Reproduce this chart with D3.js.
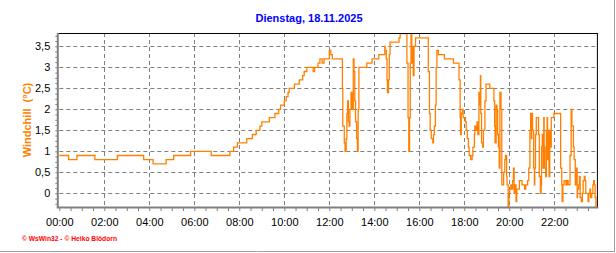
<!DOCTYPE html>
<html><head><meta charset="utf-8">
<script src="https://cdn.jsdelivr.net/npm/d3@7"></script>
<style>
html,body{margin:0;padding:0;background:#fff;}
svg{display:block;font-family:"Liberation Sans",Arial,sans-serif;}
</style></head>
<body>
<svg id="c" width="616" height="253"></svg>
<script>
const title = "Dienstag, 18.11.2025";
const yLabel = "Windchill  (°C)";
const credits = "© WsWin32 - © Heiko Blödorn";
const xTickLabels = ["00:00","02:00","04:00","06:00","08:00","10:00","12:00","14:00","16:00","18:00","20:00","22:00"];
const yTickValues = [0,0.5,1,1.5,2,2.5,3,3.5];
const times = ["00:00","00:25","00:47","01:35","02:35","03:45","04:10","04:45","05:05","05:50","06:45","07:35","07:45","07:55","08:20","08:35","08:45","08:55","09:00","09:20","09:35","09:45","09:50","10:00","10:05","10:10","10:13","10:27","10:40","10:49","10:53","11:00","11:17","11:21","11:30","11:35","11:41","11:46","12:00","12:04","12:08","12:35","12:36","12:40","12:42","12:45","12:47","12:49","12:51","12:53","12:55","12:58","13:01","13:04","13:06","13:08","13:10","13:13","13:15","13:17","13:19","13:40","13:54","14:12","14:28","14:29","14:32","14:34","14:35","14:38","14:40","14:42","15:06","15:09","15:27","15:30","15:32","15:34","15:36","15:38","15:40","15:42","15:44","15:46","15:50","16:24","16:27","16:29","16:32","16:36","16:38","16:40","16:43","16:45","16:47","16:51","17:07","17:31","17:46","17:49","17:50","17:52","17:55","17:57","18:03","18:05","18:08","18:11","18:13","18:17","18:21","18:23","18:27","18:28","18:31","18:34","18:36","18:39","18:41","18:43","18:44","18:46","18:49","18:51","18:55","18:58","19:08","19:19","19:21","19:22","19:25","19:27","19:29","19:31","19:33","19:35","19:38","19:40","19:45","19:48","19:50","19:53","19:54","19:57","19:59","20:01","20:04","20:06","20:09","20:11","20:13","20:16","20:18","20:20","20:27","20:34","20:41","20:44","20:49","20:52","20:55","20:57","20:59","21:00","21:02","21:05","21:07","21:08","21:10","21:12","21:18","21:20","21:23","21:25","21:26","21:28","21:30","21:32","21:33","21:35","21:37","21:39","21:41","21:42","21:44","21:46","21:48","21:50","21:52","21:59","22:17","22:20","22:21","22:23","22:26","22:31","22:34","22:37","22:42","22:45","22:47","22:51","22:53","22:56","22:58","23:01","23:02","23:05","23:07","23:09","23:12","23:15","23:17","23:20","23:22","23:24","23:30","23:32","23:35","23:37","23:40","23:43","23:45","23:47","23:49","23:51","23:55"];
const windchill = [0.9,0.8,0.9,0.8,0.9,0.8,0.7,0.8,0.9,1.0,0.9,1.0,1.1,1.2,1.3,1.4,1.5,1.6,1.7,1.8,1.9,2.0,2.1,2.2,2.3,2.4,2.5,2.6,2.7,2.8,2.9,3.0,2.9,3.0,3.1,3.2,3.1,3.2,3.4,3.3,3.2,2.5,1.6,1.2,1.0,1.3,1.9,2.2,1.7,1.6,2.0,2.4,2.0,3.2,2.9,2.2,1.7,1.3,1.0,2.0,3.0,3.1,3.2,3.3,3.5,3.4,3.2,2.7,2.4,2.7,3.3,3.6,3.7,3.8,3.1,1.8,1.0,1.8,3.1,3.8,3.1,3.5,2.8,3.5,3.7,2.9,1.9,1.5,1.3,1.2,1.4,1.6,2.1,3.0,3.4,3.3,3.2,3.1,2.7,1.8,1.4,1.9,2.0,1.8,1.7,1.5,1.3,1.1,0.9,0.8,0.9,1.1,1.4,1.6,1.5,1.7,1.4,2.4,2.1,2.8,1.9,1.2,1.1,1.5,2.2,2.6,2.5,2.2,1.6,1.2,2.1,2.0,1.4,1.1,0.6,2.4,2.0,0.2,0.5,0.8,0.9,0.4,0.2,-0.33,0.0,0.1,0.2,0.1,0.3,0.6,0.0,0.2,-0.2,0.1,0.3,0.2,0.1,0.2,0.3,0.6,1.5,1.9,1.3,1.9,1.5,0.6,0.2,0.6,1.4,1.8,1.4,0.4,0.0,0.2,1.1,1.4,0.6,1.8,1.1,0.6,0.4,1.5,1.8,0.8,1.5,0.4,1.5,1.1,1.8,1.9,0.6,0.2,-0.2,0.2,0.3,0.2,0.3,0.2,0.9,2.0,1.6,1.1,0.8,0.2,0.6,-0.1,0.1,0.2,0.4,-0.1,-0.2,0.0,0.3,0.4,0.3,0.0,-0.2,0.0,0.1,-0.1,0.0,0.2,0.3,0.2,-0.1,-0.33,-0.33];

const toMin = s => { const [h,m] = s.split(":").map(Number); return h*60+m; };
const data = times.map((t,i)=>({t:toMin(t), v:windchill[i]}));

const svg = d3.select("#c");
const L=59.3, R=597.4, T=33, B=207;
const x = d3.scaleLinear().domain([0,1435]).range([L,R]);
const y = d3.scaleLinear().domain([-0.326,3.817]).range([B,T]);
const grey="#808080";

// outer frame lines (right & bottom)
svg.append("line").attr("x1",614.5).attr("x2",614.5).attr("y1",0).attr("y2",252).attr("stroke","#a0a0a0").attr("stroke-width",1);
svg.append("line").attr("x1",0).attr("x2",615).attr("y1",251.5).attr("y2",251.5).attr("stroke","#a0a0a0").attr("stroke-width",1);

// grid
const gx = d3.range(120,1435,120);
svg.append("g").selectAll("line").data(yTickValues).join("line")
  .attr("x1",L).attr("x2",R).attr("y1",d=>Math.round(y(d))+0.5).attr("y2",d=>Math.round(y(d))+0.5)
  .attr("stroke",grey).attr("stroke-dasharray","4,3");
svg.append("g").selectAll("line").data(gx).join("line")
  .attr("x1",d=>Math.round(x(d))+0.5).attr("x2",d=>Math.round(x(d))+0.5).attr("y1",T).attr("y2",B)
  .attr("stroke",grey).attr("stroke-dasharray","4,3");

// data line
svg.append("clipPath").attr("id","clip").append("rect").attr("x",L-1).attr("y",T).attr("width",R-L+1).attr("height",B-T);
const line = d3.line().x(d=>x(d.t)).y(d=>y(d.v)).curve(d3.curveStepAfter);
svg.append("path").datum(data).attr("d",line).attr("fill","none").attr("stroke","#ff8000")
  .attr("stroke-width",1.3).attr("clip-path","url(#clip)");

// borders
svg.append("line").attr("x1",L-1).attr("x2",R+0.5).attr("y1",T+0.5).attr("y2",T+0.5).attr("stroke","#000");
svg.append("line").attr("x1",R).attr("x2",R).attr("y1",T).attr("y2",B).attr("stroke","#000");

// left axis
const ya = svg.append("g").attr("transform",`translate(${L-1},0)`)
  .call(d3.axisLeft(y).tickValues(yTickValues).tickSize(0).tickPadding(8)
    .tickFormat(d=>String(d).replace(".",",")));
ya.select(".domain").remove();
ya.selectAll("text").attr("font-size",11).attr("font-family","Liberation Sans, Arial, sans-serif").attr("fill","#000");
const yminor = svg.append("g").attr("transform",`translate(${L-2},0)`)
  .call(d3.axisLeft(y).tickValues(d3.range(-0.25,3.8,0.125)).tickSize(2).tickFormat(""));
yminor.select(".domain").remove();
yminor.selectAll("line").attr("stroke",grey);
svg.append("line").attr("x1",L-1.5).attr("x2",L-1.5).attr("y1",T).attr("y2",B+1).attr("stroke",grey).attr("stroke-width",2);

// bottom axis
const xa = svg.append("g").attr("transform",`translate(0,${B})`)
  .call(d3.axisBottom(x).tickValues(d3.range(0,1440,120)).tickSize(0).tickPadding(11)
    .tickFormat((d,i)=>xTickLabels[i]));
xa.select(".domain").remove();
xa.selectAll("text").attr("font-size",11).attr("font-family","Liberation Sans, Arial, sans-serif").attr("fill","#000");
const xminor = svg.append("g").attr("transform",`translate(0,${B+1})`)
  .call(d3.axisBottom(x).tickValues(d3.range(0,1436,30)).tickSize(3).tickFormat(""));
xminor.select(".domain").remove();
xminor.selectAll("line").attr("stroke",grey);
svg.append("line").attr("x1",L-2.5).attr("x2",R+1).attr("y1",B+0.5).attr("y2",B+0.5).attr("stroke",grey).attr("stroke-width",2);

// texts
svg.append("text").attr("x",309).attr("y",22).attr("text-anchor","middle")
  .attr("font-size",11).attr("font-weight","bold").attr("fill","#0000ff").text(title);
svg.append("text").attr("transform","translate(27,120) rotate(-90)").attr("text-anchor","middle")
  .attr("dy","0.35em").attr("font-size",11).attr("font-weight","bold").attr("fill","#ff8000")
  .attr("xml:space","preserve").style("white-space","pre").text(yLabel);
svg.append("text").attr("x",22).attr("y",240.5).attr("font-size",7.5).attr("font-weight","bold")
  .attr("fill","#ff0000").attr("textLength",95).attr("lengthAdjust","spacingAndGlyphs").text(credits);
</script>
</body></html>
